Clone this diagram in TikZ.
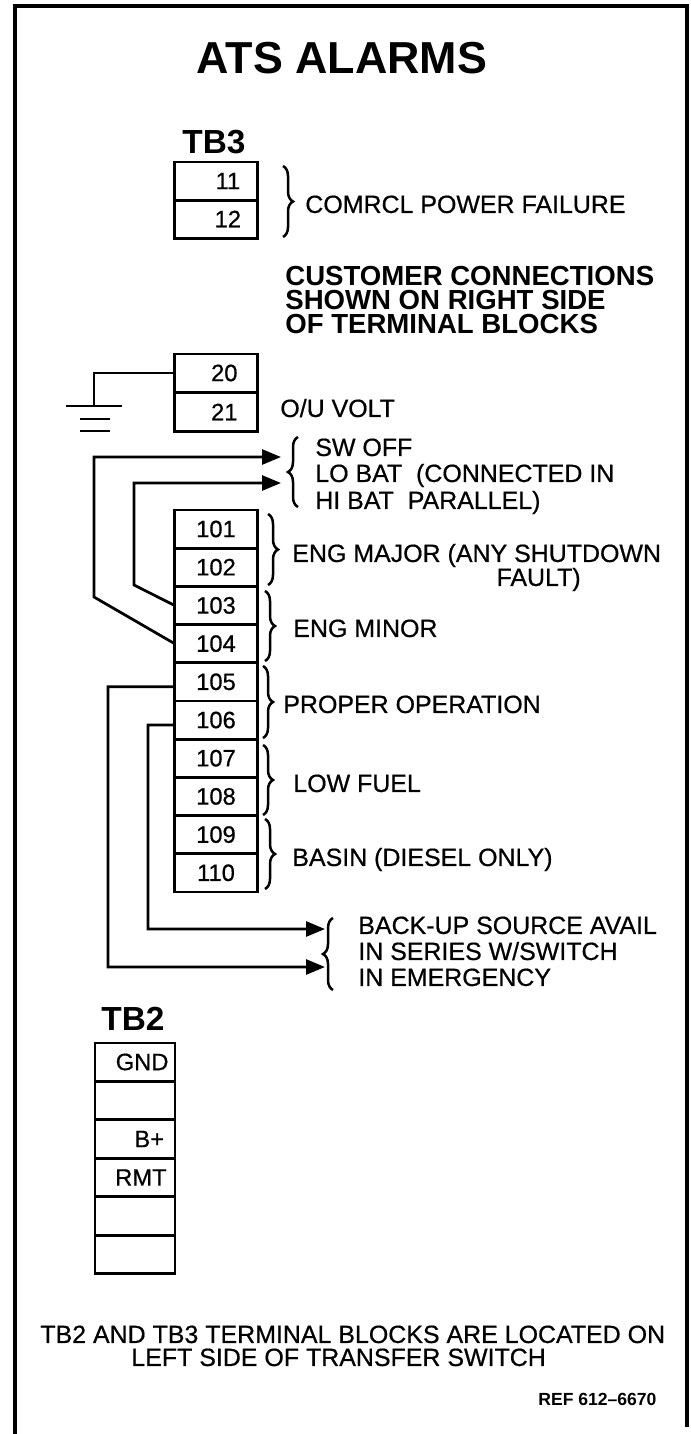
\documentclass[tikz,border=0pt]{standalone}
\usepackage{fontspec}
\setmainfont{Liberation Sans}
\newfontfamily\medfont[RawFeature={embolden=0.6}]{Liberation Sans}
\usetikzlibrary{arrows.meta,decorations.pathreplacing}
\tikzset{
  cell/.style={draw, line width=0.055cm, minimum width=1.66cm, minimum height=0.765cm, inner sep=0pt, outer sep=0pt, font=\medfont\fontsize{13.5}{13.5}\selectfont},
  wire/.style={line width=0.055cm},
  feed/.style={wire, -{Triangle[length=0.38cm,width=0.3cm]}},
  curly/.style={line width=0.05cm, decorate, decoration={brace,amplitude=0.2cm}},
  lbl/.style={anchor=west, inner sep=0pt, text height=10.2pt, text depth=0pt, font=\medfont\fontsize{14.2}{14.2}\selectfont},
  hdr/.style={inner sep=0pt, font=\bfseries\fontsize{19}{19}\selectfont},
  boldlbl/.style={lbl, font=\bfseries\fontsize{15.7}{15.7}\selectfont}
}
\begin{document}
\begin{tikzpicture}[x=0.02cm,y=-0.02cm]
    \useasboundingbox (0,0) rectangle (690,1434);
    \draw [line width=0.09cm] (15,1434)--(15,6)--(687,6)--(687,1427);
    \node [inner sep=0pt, font=\bfseries\fontsize{25.5}{25.5}\selectfont] (title) at (342,58) {ATS ALARMS};
    \node [hdr] (tb3) at (214,142) {TB3};
    \node [cell] (t11) at (216,181) {\hspace*{1em}11};
    \node [cell] (t12) at (216,219) {\hspace*{1em}12};
    \draw [curly] (283,166)--(283,237);
    \node [lbl] (comrcl) at (305,204) {COMRCL POWER FAILURE};
    \node [boldlbl] (cust1) at (285,277) {CUSTOMER CONNECTIONS};
    \node [boldlbl] (cust2) at (285,301) {SHOWN ON RIGHT SIDE};
    \node [boldlbl] (cust3) at (285,325) {OF TERMINAL BLOCKS};
    %
    \node [cell] (t20) at (216,373) {\hspace*{0.7em}20};
    \node [cell] (t21) at (216,412) {\hspace*{0.7em}21};
    \node [lbl] (ou) at (280,408) {O/U VOLT};
    \coordinate (gnd) at (94,406);
    \draw [wire] (t20.west)--(94,373)--(gnd);
    \draw [wire] (66,406)--(122,406);
    \draw [wire] (80,419)--(110,419);
    \draw [wire] (80,431)--(110,431);
    %
    \foreach \n [count=\i from 0] in {101,...,110}
      \node [cell] (t\n) at (216,529+38.2*\i) {\n};
    %
    \coordinate (swin) at (281,457);
    \coordinate (loin) at (281,483);
    \draw [feed] (t104.west)--(94,597)--(94,457)--(swin);
    \draw [feed] (t103.west)--(134,585)--(134,483)--(loin);
    \draw [curly] (298,507)--(298,437);
    \node [lbl] (sw) at (315,447) {SW OFF};
    \node [lbl] (lo) at (315,473) {LO BAT\ \ (CONNECTED IN};
    \node [lbl] (hi) at (315,500) {HI BAT\ \ PARALLEL)};
    %
    \draw [curly] (268,514)--(268,585);
    \node [lbl] (major) at (292,553) {ENG MAJOR (ANY SHUTDOWN};
    \node [lbl, anchor=east] (fault) at (581,577) {FAULT)};
    \draw [curly] (265,591)--(265,661);
    \node [lbl] (minor) at (293,628) {ENG MINOR};
    \draw [curly] (263,666)--(263,738);
    \node [lbl] (proper) at (283,704) {PROPER OPERATION};
    \draw [curly] (263,745)--(263,815);
    \node [lbl] (fuel) at (293,783) {LOW FUEL};
    \draw [curly] (265,819)--(265,889);
    \node [lbl] (basin) at (292,857) {BASIN (DIESEL ONLY)};
    %
    \coordinate (backin) at (325,929);
    \coordinate (emgin) at (325,967);
    \draw [feed] ([yshift=-0.1cm]t106.west)--(148,725)--(148,929)--(backin);
    \draw [feed] ([yshift=-0.1cm]t105.west)--(108,686.8)--(108,967)--(emgin);
    \draw [curly] (333,990)--(333,918);
    \node [lbl] (back) at (358,925) {BACK-UP SOURCE AVAIL};
    \node [lbl] (series) at (358,951) {IN SERIES W/SWITCH};
    \node [lbl] (emg) at (358,977) {IN EMERGENCY};
    %
    \node [hdr] (tb2) at (133,1019) {TB2};
    \foreach \txt/\sft [count=\i from 0] in {GND/0.6em,/0em,B+/1.2em,RMT/0.5em,/0em,/0em}
      \node [cell, minimum width=1.6cm] (b\i) at (135,1062+38.5*\i) {\hspace*{\sft}\txt};
    %
    \node [lbl] (note1) at (40,1334) {TB2 AND TB3 TERMINAL BLOCKS ARE LOCATED ON};
    \node [lbl] (note2) at (131,1357) {LEFT SIDE OF TRANSFER SWITCH};
    \node [lbl, text height=7.2pt, font=\bfseries\fontsize{10}{10}\selectfont] (ref) at (538,1399) {REF 612--6670};
\end{tikzpicture}
\end{document}
